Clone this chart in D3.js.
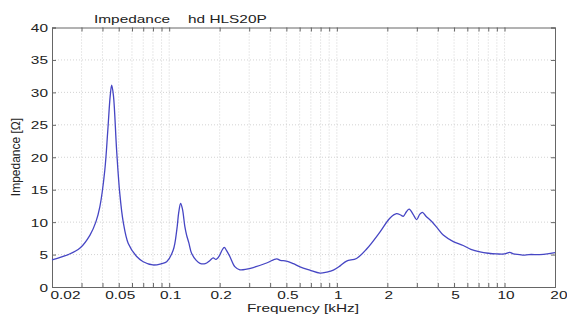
<!DOCTYPE html>
<html><head><meta charset="utf-8">
<script src="https://cdn.jsdelivr.net/npm/d3@7"></script>
<style>
html,body{margin:0;padding:0;background:#fff;}
svg{display:block;font-family:"Liberation Sans",Arial,Helvetica,sans-serif;}
</style></head>
<body>
<svg id="chart" width="567" height="316"></svg>
<script>
// ---- data (frequency in kHz, impedance in ohm) ----
const freqs = [0.02,0.025,0.0294,0.0337,0.0365,0.0386,0.0413,0.043,0.0445,0.0454,0.0465,0.0486,0.0507,0.0532,0.057,0.064,0.07,0.08,0.09,0.0966,0.1057,0.111,0.114,0.117,0.12,0.124,0.127,0.131,0.136,0.145,0.1526,0.164,0.175,0.183,0.19,0.2,0.207,0.213,0.22,0.23,0.247,0.264,0.29,0.317,0.381,0.438,0.46,0.5,0.55,0.603,0.69,0.793,0.87,0.953,1.05,1.143,1.31,1.51,1.81,2.07,2.27,2.4,2.49,2.6,2.7,2.85,2.99,3.12,3.24,3.4,3.68,4.0,4.31,4.95,5.67,6.3,7.14,8.0,8.97,10.0,10.75,11.3,12.3,13.0,14.0,16.2,18.0,20.0];
const impedance = [4.2,5.0,6.0,8.0,10.0,12.4,18.0,24.0,29.5,31.1,29.5,21.0,14.5,10.0,6.7,4.7,3.9,3.4,3.6,3.9,5.7,8.8,11.5,12.9,12.0,9.3,8.0,6.8,5.2,4.1,3.65,3.6,4.1,4.5,4.25,4.9,5.7,6.1,5.6,4.7,3.1,2.65,2.75,3.0,3.7,4.35,4.1,4.0,3.6,3.1,2.6,2.15,2.3,2.6,3.3,4.0,4.4,5.9,8.5,10.6,11.3,11.1,10.9,11.6,12.0,11.2,10.4,11.2,11.5,10.9,10.1,9.0,8.0,7.0,6.4,5.8,5.4,5.2,5.1,5.1,5.35,5.1,5.0,4.9,5.0,5.0,5.1,5.3];
const xTicksAll = [0.02,0.03,0.04,0.05,0.06,0.07,0.08,0.09,0.1,0.2,0.3,0.4,0.5,0.6,0.7,0.8,0.9,1,2,3,4,5,6,7,8,9,10,20];
const xTickLabels = [0.02,0.05,0.1,0.2,0.5,1,2,5,10,20];
const yTicks = [0,5,10,15,20,25,30,35,40];
const titleParts = ["Impedance","hd HLS20P"];
const xLabel = "Frequency [kHz]";
const yLabel = "Impedance [Ω]";

const svg = d3.select("#chart");
const L=52, R=555, T=27.5, B=287;
const SX = 1.4; // horizontal stretch of glyphs
const x = d3.scaleLog().domain([0.02,20]).range([L,R]);
const y = d3.scaleLinear().domain([0,40]).range([B,T]);

// grid
const grid = svg.append("g").attr("stroke","#c8c8c8").attr("stroke-width",0.8).attr("stroke-dasharray","1,2");
grid.selectAll(".vg").data(xTicksAll.filter(d=>d>0.02&&d<20)).join("line")
  .attr("x1",d=>x(d)).attr("x2",d=>x(d)).attr("y1",T).attr("y2",B);
grid.selectAll(".hg").data(yTicks.filter(d=>d>0&&d<40)).join("line")
  .attr("x1",L).attr("x2",R).attr("y1",d=>y(d)).attr("y2",d=>y(d));

// axes (ticks inward)
const fmtX = d => xTickLabels.includes(d) ? String(d) : "";
const axB = svg.append("g").attr("transform",`translate(0,${B})`)
  .call(d3.axisBottom(x).tickValues(xTicksAll).tickFormat(fmtX).tickSize(-4).tickPadding(0));
const axT = svg.append("g").attr("transform",`translate(0,${T})`)
  .call(d3.axisTop(x).tickValues(xTicksAll).tickFormat("").tickSize(-4));
const axL = svg.append("g").attr("transform",`translate(${L},0)`)
  .call(d3.axisLeft(y).tickValues(yTicks).tickFormat(d3.format("d")).tickSize(-4).tickPadding(0));
const axR = svg.append("g").attr("transform",`translate(${R},0)`)
  .call(d3.axisRight(y).tickValues(yTicks).tickFormat("").tickSize(-4));
[axB,axT,axL,axR].forEach(a=>{
  a.select(".domain").attr("stroke","#666").attr("stroke-width",1);
  a.selectAll(".tick line").attr("stroke","#666");
});
axB.selectAll(".tick text").attr("font-size",11).attr("fill","#222")
  .attr("y",0).attr("dy",0)
  .attr("text-anchor",d=> d===0.02?"start":(d===20?"end":"middle"))
  .attr("transform",d=>{
     let tx = d===0.02 ? -2 : (d===20 ? 12 : 1);
     return `translate(${tx},11.5) scale(${SX},1)`;
  });
axL.selectAll(".tick text").attr("font-size",11).attr("fill","#222")
  .attr("x",0).attr("dy",0).attr("text-anchor","end")
  .attr("transform",`translate(-4,4) scale(${SX},1)`);

// curve
const pts = freqs.map((f,i)=>[f,impedance[i]]);
svg.append("path").datum(pts)
  .attr("fill","none").attr("stroke","#4646c4").attr("stroke-width",1.3)
  .attr("d",d3.line().x(d=>x(d[0])).y(d=>y(d[1])).curve(d3.curveCatmullRom.alpha(0.5)));

// title
svg.append("text").attr("transform",`translate(94,23) scale(${SX},1)`).attr("font-size",11).attr("fill","#222").text(titleParts[0]);
svg.append("text").attr("transform",`translate(188,23) scale(${SX},1)`).attr("font-size",11).attr("fill","#222").text(titleParts[1]);
// x label
svg.append("text").attr("transform",`translate(303,312) scale(${SX},1)`).attr("text-anchor","middle").attr("font-size",11).attr("fill","#222").text(xLabel);
// y label
svg.append("text").attr("transform",`translate(19.5,157) scale(${SX*0.75},1) rotate(-90)`).attr("text-anchor","middle").attr("font-size",12).attr("fill","#222").text(yLabel);
</script>
</body></html>
